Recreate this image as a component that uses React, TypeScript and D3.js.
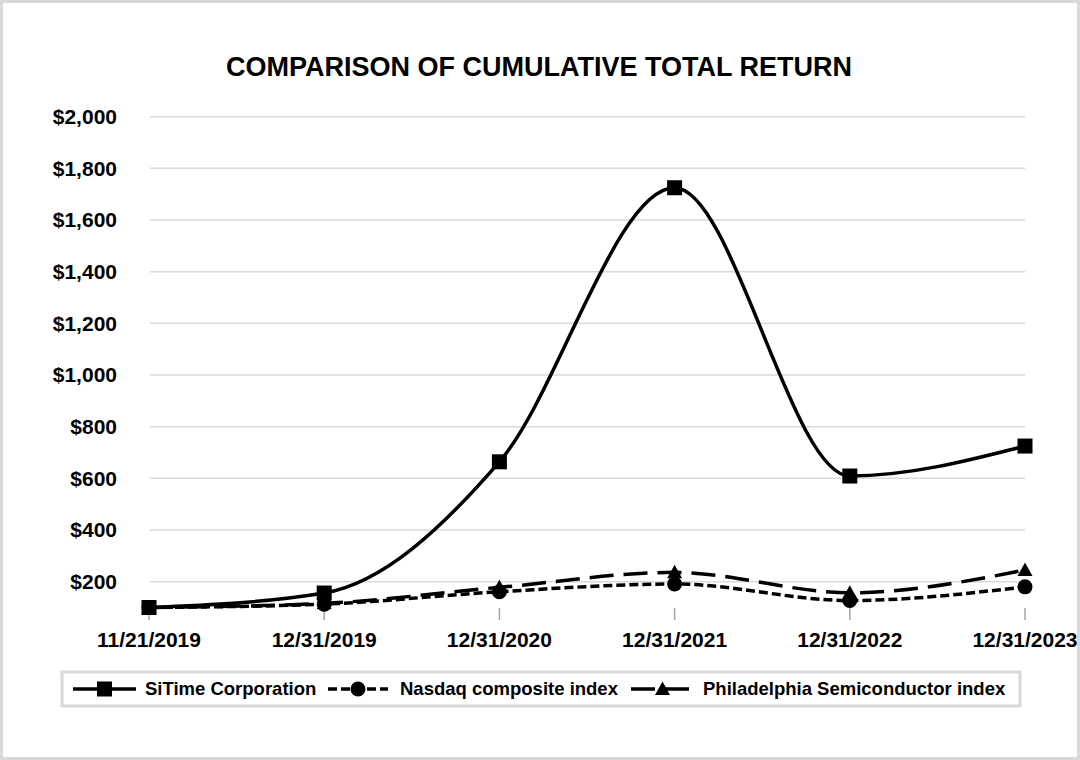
import React from "react";
import * as d3 from "d3";

const categories = ["11/21/2019", "12/31/2019", "12/31/2020", "12/31/2021", "12/31/2022", "12/31/2023"];
const sitime = [100, 156, 664, 1725, 609, 725];
const nasdaq = [100, 113, 161, 191, 127, 180];
const sox = [100, 116, 178, 236, 157, 245];
const yTicks = [200, 400, 600, 800, 1000, 1200, 1400, 1600, 1800, 2000];
const seriesNames = ["SiTime Corporation", "Nasdaq composite index", "Philadelphia Semiconductor index"];

const W = 1080;
const H = 760;
const FONT = "'Liberation Sans', Arial, Helvetica, sans-serif";

export default function App() {
  const x = d3.scalePoint<string>().domain(categories).range([149, 1025]);
  const y = d3.scaleLinear().domain([100, 2000]).range([607.5, 116.7]);
  const fmt = (v: number) => "$" + d3.format(",")(v);

  const line = d3
    .line<number>()
    .x((_, i) => x(categories[i]) as number)
    .y((d) => y(d))
    .curve(d3.curveMonotoneX);

  const series = [
    { name: seriesNames[0], data: sitime, dash: "none", marker: "square" },
    { name: seriesNames[1], data: nasdaq, dash: "9,4", marker: "circle" },
    { name: seriesNames[2], data: sox, dash: "24,10", marker: "triangle" },
  ];

  const marker = (kind: string, cx: number, cy: number, key: string) => {
    if (kind === "square") return <rect key={key} x={cx - 7.5} y={cy - 7.5} width={15} height={15} fill="#000" />;
    if (kind === "circle") return <circle key={key} cx={cx} cy={cy} r={7.5} fill="#000" />;
    return <path key={key} d={`M${cx},${cy - 7.5}L${cx + 7.5},${cy + 6}L${cx - 7.5},${cy + 6}Z`} fill="#000" />;
  };

  const legendItems = [
    { x1: 73, x2: 136, text: 145 },
    { x1: 328, x2: 388, text: 400 },
    { x1: 631, x2: 694, text: 703 },
  ];
  const ly = 689;

  return (
    <svg width={W} height={H} style={{ position: "absolute", left: 0, top: 0, background: "#fff" }}>
      <rect x={0} y={0} width={W} height={H} fill="#fff" />
      <rect x={1.5} y={1.5} width={W - 3} height={H - 3} fill="none" stroke="#d9d9d9" strokeWidth={3} />
      <text x={539} y={76} textAnchor="middle" fontFamily={FONT} fontWeight="bold" fontSize={27} fill="#000">
        COMPARISON OF CUMULATIVE TOTAL RETURN
      </text>
      {yTicks.map((t) => (
        <g key={t}>
          <line x1={150} x2={1025} y1={y(t)} y2={y(t)} stroke="#d9d9d9" strokeWidth={1.5} />
          <text x={117} y={y(t)} dy="0.35em" textAnchor="end" fontFamily={FONT} fontWeight="bold" fontSize={21} fill="#000">
            {fmt(t)}
          </text>
        </g>
      ))}
      {categories.map((c) => (
        <g key={c}>
          <line x1={x(c)} x2={x(c)} y1={608} y2={620} stroke="#a6a6a6" strokeWidth={1.5} />
          <text x={x(c)} y={647} textAnchor="middle" fontFamily={FONT} fontWeight="bold" fontSize={21} fill="#000">
            {c}
          </text>
        </g>
      ))}
      {series.map((s) => (
        <g key={s.name}>
          <path d={line(s.data) || ""} fill="none" stroke="#000" strokeWidth={3.5} strokeDasharray={s.dash === "none" ? undefined : s.dash} />
          {s.data.map((v, i) => marker(s.marker, x(categories[i]) as number, y(v), s.name + i))}
        </g>
      ))}
      <rect x={62} y={672} width={958} height={34} fill="#fff" stroke="#d9d9d9" strokeWidth={3} />
      {series.map((s, i) => {
        const it = legendItems[i];
        return (
          <g key={"lg" + i}>
            <line x1={it.x1} x2={it.x2} y1={ly} y2={ly} stroke="#000" strokeWidth={3.5} strokeDasharray={s.dash === "none" ? undefined : s.dash} />
            {marker(s.marker, (it.x1 + it.x2) / 2, ly, "lm" + i)}
            <text x={it.text} y={ly} dy="0.35em" fontFamily={FONT} fontWeight="bold" fontSize={18.5} fill="#000">
              {s.name}
            </text>
          </g>
        );
      })}
    </svg>
  );
}
